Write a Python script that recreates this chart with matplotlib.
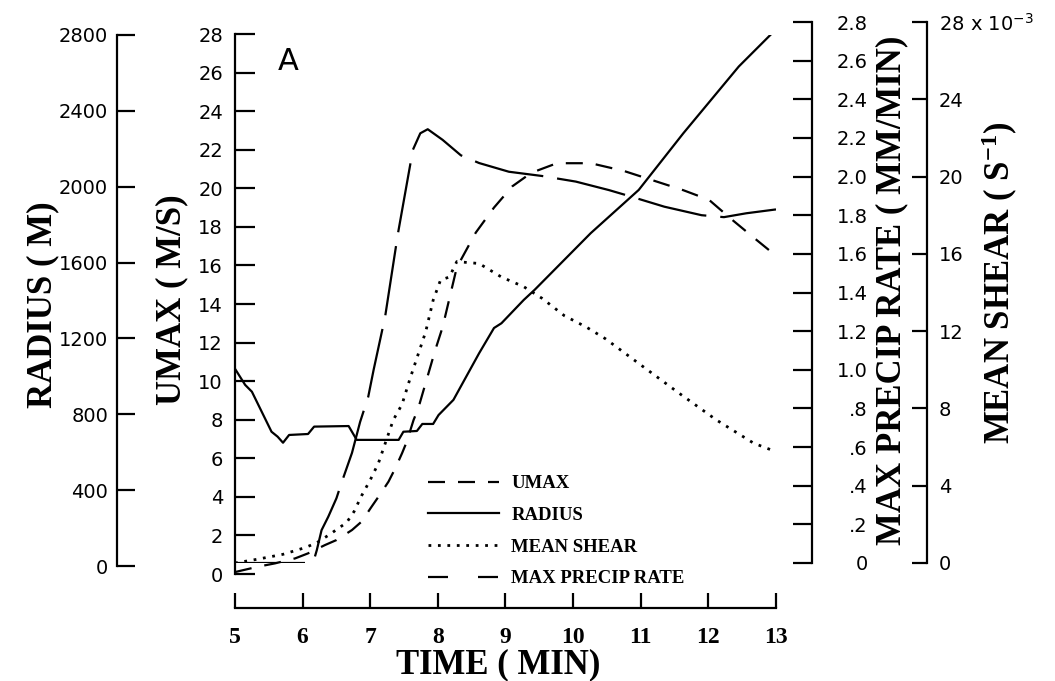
import matplotlib.pyplot as plt
from matplotlib.lines import Line2D

plt.rcParams['mathtext.default'] = 'regular'

# values, time in min
t_radius = [5.0, 5.15, 5.25, 5.54, 5.63, 5.71, 5.80, 6.08, 6.17, 6.68, 6.80, 7.42, 7.49,
            7.69, 7.77, 7.93, 8.01, 8.23, 8.61, 8.83, 8.94, 9.27, 9.43, 10.26, 10.97,
            11.63, 12.45, 13.0]
radius = [1040, 955, 919, 708, 682, 650, 691, 696, 735, 738, 665, 665, 708,
          712, 749, 749, 796, 876, 1122, 1255, 1280, 1403, 1456, 1755, 1983,
          2282, 2634, 2830]

t_umax = [5.0, 5.34, 5.59, 5.89, 6.08, 6.33, 6.50, 6.73, 6.87, 7.02, 7.14, 7.27, 7.37,
          7.47, 7.54, 7.64, 7.71, 7.96, 8.07, 8.28, 8.56, 8.83, 9.1, 9.38, 9.76, 10.26,
          10.75, 11.19, 11.63, 12.01, 12.34, 12.72, 13.0]
umax = [0.1, 0.38, 0.55, 0.81, 1.07, 1.5, 1.76, 2.28, 2.71, 3.49, 4.1, 4.79, 5.48,
        6.26, 6.86, 7.98, 8.59, 11.6, 12.8, 15.9, 17.7, 19.0, 20.1, 20.8, 21.3, 21.3,
        20.9, 20.4, 19.9, 19.4, 18.4, 17.3, 16.5]

t_precip = [5.0, 6.05, 6.16, 6.21, 6.28, 6.38, 6.50, 6.58, 6.73, 6.85, 6.97, 7.05, 7.22,
            7.41, 7.63, 7.74, 7.85, 8.07, 8.34, 8.61, 9.05, 9.54, 10.04, 10.53, 10.86,
            11.35, 11.9, 12.23, 12.56, 13.0]
precip = [0, 0, 0.007, 0.067, 0.17, 0.24, 0.335, 0.42, 0.57, 0.73, 0.86, 1.0, 1.275,
          1.706, 2.138, 2.224, 2.245, 2.19, 2.11, 2.07, 2.025, 2.003, 1.974, 1.93, 1.896,
          1.844, 1.80, 1.79, 1.81, 1.83]

t_shear = [5.0, 5.34, 5.71, 6.04, 6.21, 6.41, 6.53, 6.65, 6.76, 6.87, 7.0, 7.12, 7.34,
           7.47, 7.59, 7.82, 7.93, 8.04, 8.17, 8.28, 8.61, 8.94, 9.27, 9.54, 9.87, 10.2,
           10.48, 11.02, 11.57, 12.12, 12.67, 13.0]
shear = [0.0, 0.2, 0.45, 0.8, 1.05, 1.5, 1.8, 2.09, 2.66, 3.47, 4.3, 5.16, 7.4,
         8.21, 9.56, 11.97, 13.6, 14.65, 14.8, 15.6, 15.5, 14.8, 14.3, 13.7, 12.8, 12.2,
         11.6, 10.2, 8.78, 7.4, 6.2, 5.76]  # x 10^-3 s^-1

time_ticks = [5, 6, 7, 8, 9, 10, 11, 12, 13]
radius_ticks = [0, 400, 800, 1200, 1600, 2000, 2400, 2800]
umax_ticks = [0, 2, 4, 6, 8, 10, 12, 14, 16, 18, 20, 22, 24, 26, 28]
precip_ticks = [0, 0.2, 0.4, 0.6, 0.8, 1.0, 1.2, 1.4, 1.6, 1.8, 2.0, 2.2, 2.4, 2.6, 2.8]
precip_labels = ['0', '.2', '.4', '.6', '.8', '1.0', '1.2', '1.4', '1.6', '1.8',
                 '2.0', '2.2', '2.4', '2.6', '2.8']
shear_ticks = [0, 4, 8, 12, 16, 20, 24, 28]
shear_labels = ['0', '4', '8', '12', '16', '20', '24', '28 x 10$^{-3}$']

W, H = 1055, 681
PT = 72 / 100  # points per pixel
fig = plt.figure(figsize=(W / 100, H / 100), dpi=100)


def box(left, right, bottom, top):
    return [left / W, 1 - bottom / H, (right - left) / W, (bottom - top) / H]


tick_font = dict(family='DejaVu Sans', fontsize=14)
serif_bold = dict(family='Liberation Serif', fontweight='bold')


def bare(ax):
    ax.patch.set_visible(False)
    for s in ax.spines.values():
        s.set_visible(False)
    ax.set_xlim(5, 13)
    ax.tick_params(axis='x', which='both', bottom=False, labelbottom=False)


# umax axis carries the time axis as well
ax_u = fig.add_axes(box(235, 776, 574, 34))
bare(ax_u)
ax_u.set_ylim(0, 28)
ax_u.spines['left'].set_visible(True)
ax_u.spines['left'].set_linewidth(1.6)
ax_u.spines['bottom'].set_visible(True)
ax_u.spines['bottom'].set_linewidth(1.6)
ax_u.spines['bottom'].set_position(('outward', 34 * PT))
ax_u.set_yticks(umax_ticks, [str(v) for v in umax_ticks], **tick_font)
ax_u.tick_params(axis='y', direction='in', length=20 * PT, width=1.6, pad=12 * PT)
ax_u.tick_params(axis='x', bottom=True, labelbottom=True, direction='in',
                 length=15 * PT, width=1.6, pad=19 * PT)
ax_u.set_xticks(time_ticks, [str(v) for v in time_ticks], fontsize=17, **serif_bold)

ax_r = fig.add_axes(box(235, 776, 566, 35))
bare(ax_r)
ax_r.set_ylim(0, 2800)
ax_r.spines['left'].set_visible(True)
ax_r.spines['left'].set_linewidth(1.6)
ax_r.spines['left'].set_position(('axes', (117 - 235) / 541))
ax_r.set_yticks(radius_ticks, [str(v) for v in radius_ticks], **tick_font)
ax_r.tick_params(axis='y', direction='in', length=18 * PT, width=1.6, pad=9 * PT)

ax_p = fig.add_axes(box(235, 776, 563, 22))
bare(ax_p)
ax_p.set_ylim(0, 2.8)
ax_p.yaxis.tick_right()
ax_p.spines['right'].set_visible(True)
ax_p.spines['right'].set_linewidth(1.6)
ax_p.spines['right'].set_position(('axes', (812 - 235) / 541))
ax_p.set_yticks(precip_ticks, precip_labels, ha='right', **tick_font)
ax_p.tick_params(axis='y', direction='in', length=19 * PT, width=1.6, pad=56 * PT)

ax_s = fig.add_axes(box(235, 776, 563, 22))
bare(ax_s)
ax_s.set_ylim(0, 28)
ax_s.yaxis.tick_right()
ax_s.spines['right'].set_visible(True)
ax_s.spines['right'].set_linewidth(1.6)
ax_s.spines['right'].set_position(('axes', (927 - 235) / 541))
ax_s.set_yticks(shear_ticks, shear_labels, **tick_font)
ax_s.tick_params(axis='y', direction='in', length=15 * PT, width=1.6, pad=12 * PT)

lw = 1.6
umax_dash = (0, (17 * PT / lw, 13 * PT / lw))
precip_dash = (0, (70 * PT / lw, 14 * PT / lw))
shear_dot = (0, (1.0, 2.4))

ax_u.plot(t_umax, umax, color='black', lw=lw, linestyle=umax_dash)
ax_r.plot(t_radius, radius, color='black', lw=lw)
ax_s.plot(t_shear, shear, color='black', lw=2.0, linestyle=shear_dot)
ax_p.plot(t_precip, precip, color='black', lw=lw, linestyle=precip_dash)

handles = [
    Line2D([], [], color='black', lw=lw, linestyle=umax_dash, label='UMAX'),
    Line2D([], [], color='black', lw=lw, label='RADIUS'),
    Line2D([], [], color='black', lw=2.0, linestyle=shear_dot, label='MEAN SHEAR'),
    Line2D([], [], color='black', lw=lw,
           linestyle=(0, (20 * PT / lw, 30 * PT / lw)), label='MAX PRECIP RATE'),
]
ax_u.legend(handles=handles, loc='upper left', bbox_to_anchor=(428 / W, 1 - 475 / H),
            bbox_transform=fig.transFigure, frameon=False, borderpad=0,
            borderaxespad=0, handlelength=3.8, handletextpad=0.65, labelspacing=0.78,
            prop=dict(size=13.5, family='Liberation Serif', weight='bold'))

label_font = dict(fontsize=25, **serif_bold)
fig.text(43 / W, 1 - 305 / H, 'RADIUS ( M)', rotation=90, ha='center', va='center', **label_font)
fig.text(172 / W, 1 - 300 / H, 'UMAX ( M/S)', rotation=90, ha='center', va='center', **label_font)
fig.text(892 / W, 1 - 290 / H, 'MAX PRECIP RATE ( MM/MIN)', rotation=90, ha='center',
         va='center', **label_font)
fig.text(1000 / W, 1 - 283 / H, 'MEAN SHEAR ( S$^{-1}$)', rotation=90, ha='center',
         va='center', **label_font)
fig.text(498 / W, 1 - 665 / H, 'TIME ( MIN)', ha='center', va='center', **label_font)
fig.text(288 / W, 1 - 62 / H, 'A', ha='center', va='center', family='DejaVu Sans', fontsize=22)

fig.savefig('out.png', dpi=100)
